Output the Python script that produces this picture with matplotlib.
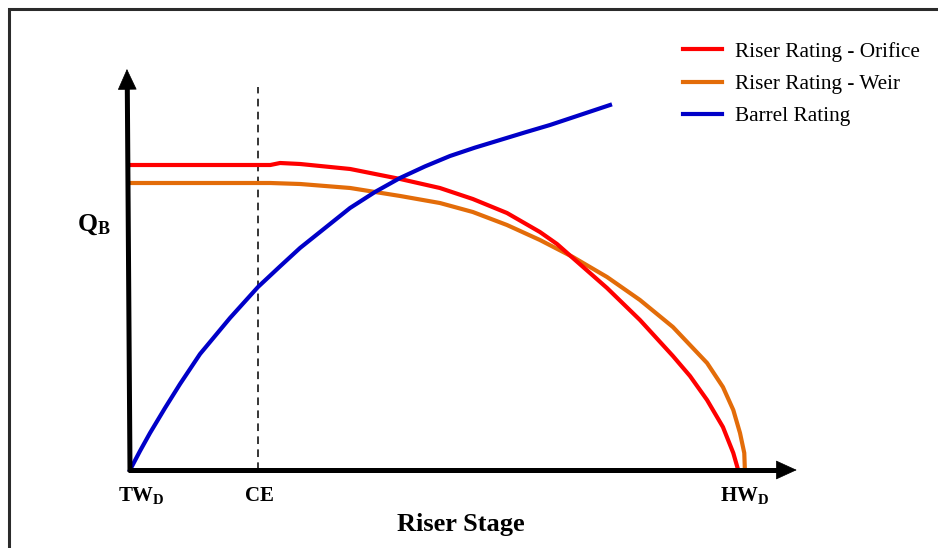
import matplotlib.pyplot as plt
from matplotlib.patches import Rectangle

plt.rcParams['font.family'] = ['Liberation Serif', 'DejaVu Serif']
plt.rcParams['mathtext.fontset'] = 'custom'
plt.rcParams['mathtext.rm'] = 'Liberation Serif:bold'
plt.rcParams['mathtext.bf'] = 'Liberation Serif:bold'
plt.rcParams['mathtext.it'] = 'Liberation Serif:bold'

# stage in % of HW_D, discharge in arbitrary units
orifice_stage = [0, 23.0, 24.6, 27.9, 36.1, 44.3, 50.8, 56.2, 61.8, 67.2, 70.0, 72.6, 78.2,
                 83.6, 89.0, 91.8, 94.6, 97.2, 98.9, 99.7]
orifice_q = [76.25, 76.25, 76.75, 76.5, 75.25, 72.75, 70.5, 67.75, 64.25, 59.5, 56.5, 53.0, 45.5,
             37.5, 28.5, 23.5, 17.5, 10.75, 4.25, 0.0]

weir_stage = [0, 23.0, 27.9, 36.1, 44.3, 50.8, 56.2, 61.8, 67.2, 72.6, 78.2, 83.6, 89.0,
              94.6, 97.2, 98.9, 100.0, 100.7, 100.8]
weir_q = [71.75, 71.75, 71.5, 70.5, 68.5, 66.75, 64.5, 61.25, 57.5, 53.25, 48.25, 42.5, 35.75,
          26.75, 20.75, 15.0, 9.25, 4.25, 0.0]

barrel_stage = [0, 1.64, 3.28, 5.74, 8.2, 11.48, 16.39, 20.98, 24.59, 27.87, 31.97, 36.07,
                40.16, 44.26, 48.36, 52.46, 56.56, 60.66, 64.75, 68.85, 73.77, 78.69]
barrel_q = [0, 4.75, 9.25, 15.5, 21.5, 29.0, 38.0, 45.75, 50.9, 55.5, 60.5, 65.5,
            69.5, 73.0, 75.9, 78.5, 80.6, 82.5, 84.4, 86.25, 88.75, 91.25]

ce_stage = 21.0
ce_top = 95.75
axis_x_end = 109.3
axis_y_end = 100.25

tick_stage = [1.8, 21.3, 100.8]
tick_labels = [r'$\mathregular{TW_D}$', 'CE', r'$\mathregular{HW_D}$']

fig = plt.figure(figsize=(9.38, 5.48), dpi=100)
ax = fig.add_axes([0, 0, 1, 1])
ax.set_xlim(-130 / 6.1, (938 - 130) / 6.1)
ax.set_ylim((470 - 548) / 4, 470 / 4)
ax.axis('off')

# frame around the picture
fig.patches.append(Rectangle((9 / 938, -0.1), 1.2, 1 - 9 / 548 + 0.1, transform=fig.transFigure,
                             fill=False, lw=2.2, ec='#2b2b2b'))

ax.plot([ce_stage, ce_stage], [0, ce_top], color='k', lw=1.1, ls=(0, (5, 3.5)), zorder=1)

ax.plot(orifice_stage, orifice_q, color='#ff0000', lw=3, label='Riser Rating - Orifice',
        solid_joinstyle='round', zorder=3)
ax.plot(weir_stage, weir_q, color='#e36c09', lw=3, label='Riser Rating - Weir',
        solid_joinstyle='round', zorder=2)
ax.plot(barrel_stage, barrel_q, color='#0000c8', lw=3, label='Barrel Rating',
        solid_joinstyle='round', zorder=4)

# axes with arrow heads
ax.plot([-0.3, axis_x_end - 2], [0, 0], color='k', lw=3.6, solid_capstyle='butt', zorder=5)
ax.plot([0, -0.45], [-0.5, axis_y_end - 3], color='k', lw=3.6, solid_capstyle='butt', zorder=5)
head = dict(arrowstyle='-|>,head_length=0.7,head_width=0.32', lw=0.5, color='k',
            mutation_scale=20, shrinkA=0, shrinkB=0)
ax.annotate('', xy=(axis_x_end, 0), xytext=(axis_x_end - 4, 0), arrowprops=head, zorder=6)
ax.annotate('', xy=(-0.5, axis_y_end), xytext=(-0.45, axis_y_end - 5), arrowprops=head, zorder=6)

for s, lab in zip(tick_stage, tick_labels):
    ax.text(s, -6.5, lab, ha='center', va='center', fontsize=15, fontweight='bold')

ax.text(54.3, -13.6, 'Riser Stage', ha='center', va='center', fontsize=19, fontweight='bold')
ax.text(-5.9, 61.2, r'$\mathregular{Q_B}$', ha='center', va='center', fontsize=18.5,
        fontweight='bold')

fig.legend(loc='upper left', bbox_to_anchor=(683 / 938, 1 - 42 / 548), frameon=False,
           fontsize=15.3, handlelength=1.85, handletextpad=0.6, labelspacing=0.58,
           borderpad=0, borderaxespad=0)

fig.savefig('out.png', dpi=100)
